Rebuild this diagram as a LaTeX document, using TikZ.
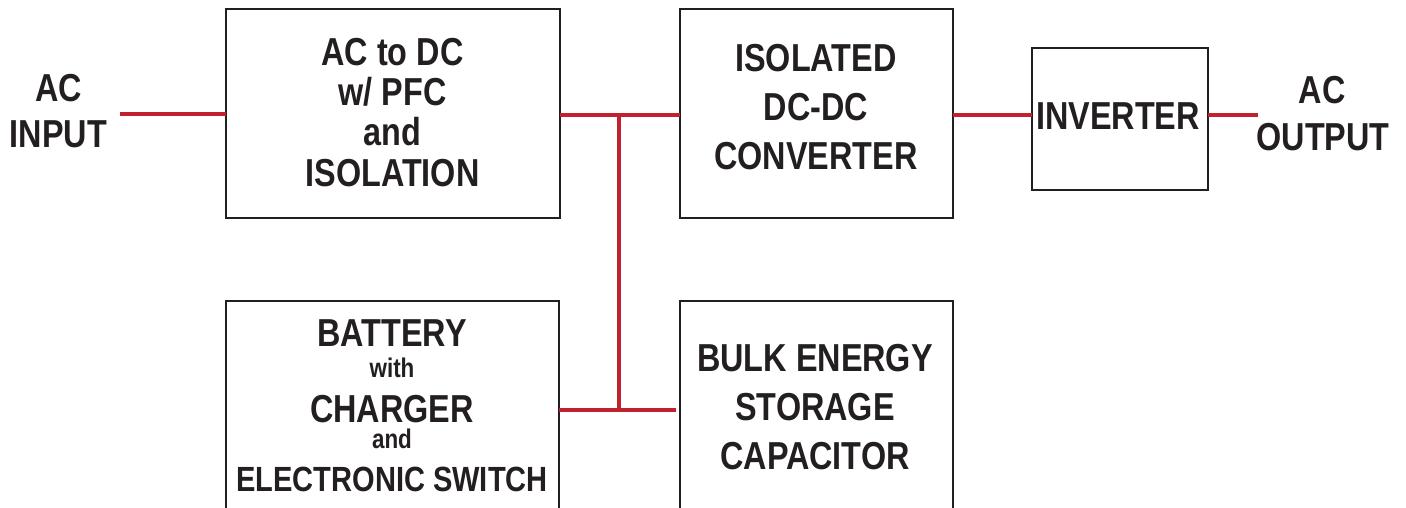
\documentclass[tikz,border=0pt]{standalone}
\usepackage{fontspec}
\newfontfamily\labfont[FakeStretch=0.83]{Liberation Sans}
\definecolor{wirered}{HTML}{C1202F}
\definecolor{boxline}{HTML}{231F20}
\begin{document}
\begin{tikzpicture}[x=1pt,y=-1pt,
  blk/.style={draw=boxline,line width=2pt,fill=none,inner sep=0pt,outer sep=0pt},
  wire/.style={draw=wirered,line width=4pt},
  big/.style={anchor=base,inner sep=0pt,font=\labfont\bfseries\fontsize{39}{40}\selectfont,text=boxline},
  mid/.style={anchor=base,inner sep=0pt,font=\labfont\bfseries\fontsize{35}{36}\selectfont,text=boxline},
  small/.style={anchor=base,inner sep=0pt,font=\labfont\bfseries\fontsize{27}{29}\selectfont,text=boxline}]
\useasboundingbox (0,0) rectangle (1406,508);
\clip (0,0) rectangle (1406,508);
% boxes
\node[blk,minimum width=334pt,minimum height=209pt] (acdc) at (393,113.5) {};
\node[blk,minimum width=273pt,minimum height=209pt] (dcdc) at (816.5,113.5) {};
\node[blk,minimum width=176pt,minimum height=142pt] (inv) at (1120,119) {};
\node[blk,minimum width=333pt,minimum height=218pt] (batt) at (392.5,410) {};
\node[blk,minimum width=273pt,minimum height=218pt] (bulk) at (816.5,410) {};
% texts
\node[big] (tin1) at (58.5,102) {AC};
\node[big] (tin2) at (58.5,148) {INPUT};
\node[big] (tout1) at (1322,104) {AC};
\node[big] (tout2) at (1323,151) {OUTPUT};
\node[big] (ta1) at (392.5,66) {AC to DC};
\node[big] (ta2) at (392.5,106) {w/ PFC};
\node[big] (ta3) at (392.5,146) {and};
\node[big] (ta4) at (392.5,186) {ISOLATION};
\node[big] (tb1) at (816,72) {ISOLATED};
\node[big] (tb2) at (816,121) {DC-DC};
\node[big] (tb3) at (816,169) {CONVERTER};
\node[big] (tc1) at (1118,130) {INVERTER};
\node[big] (td1) at (392,346) {BATTERY};
\node[small] (td2) at (392,377) {with};
\node[big] (td3) at (392,422) {CHARGER};
\node[small] (td4) at (392,448) {and};
\node[mid] (td5) at (392,491) {ELECTRONIC SWITCH};
\node[big] (te1) at (815,371) {BULK ENERGY};
\node[big] (te2) at (815,420) {STORAGE};
\node[big] (te3) at (815,469) {CAPACITOR};
% wires
\coordinate (ain) at (120,114);
\coordinate (aout) at (1258,115);
\coordinate (j1) at (619,115);
\coordinate (j2) at (619,410);
\draw[wire] (ain) -- (acdc.west |- ain);
\draw[wire] (acdc.east |- j1) -- (dcdc.west |- j1);
\draw[wire] (j1) -- (j2);
\draw[wire] (batt.east |- j2) -- ([xshift=-4pt]bulk.west |- j2);
\draw[wire] (dcdc.east |- j1) -- (inv.west |- j1);
\draw[wire] (inv.east |- aout) -- (aout);
\end{tikzpicture}
\end{document}
